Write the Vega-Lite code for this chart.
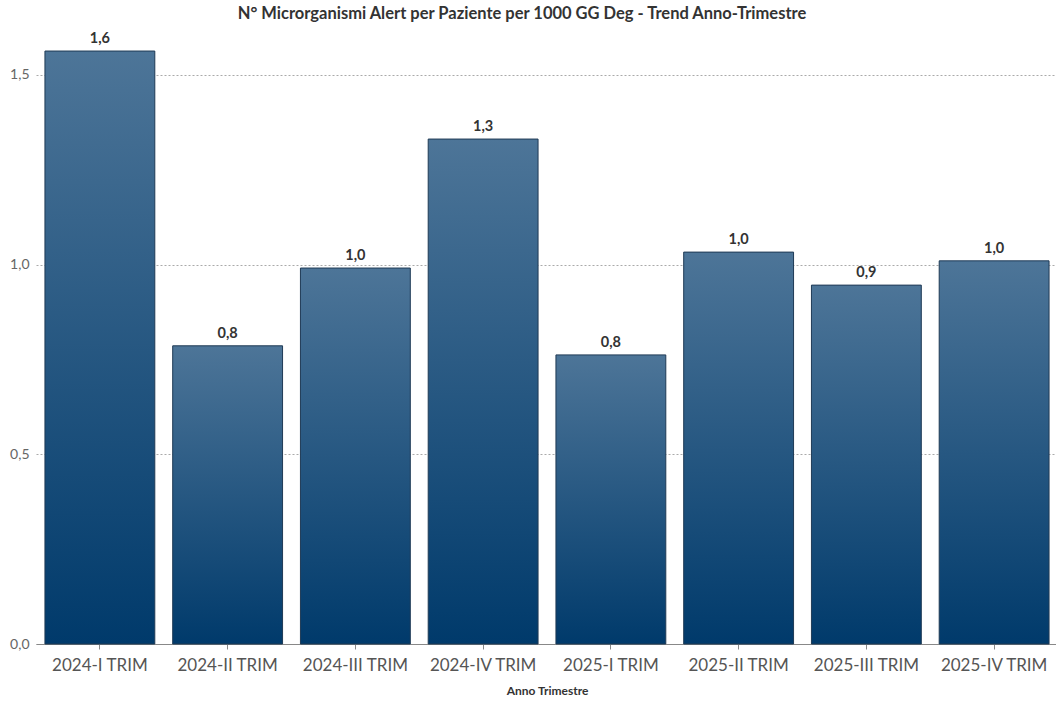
{
  "$schema": "https://vega.github.io/schema/vega-lite/v6.json",
  "autosize": "none",
  "width": 1022,
  "height": 607,
  "padding": {"left": 36, "top": 37, "right": 0, "bottom": 60},
  "background": "white",
  "config": {
    "locale": {"number": {"decimal": ",", "thousands": ".", "grouping": [3], "currency": ["€", ""]}},
    "font": "Lato",
    "view": {"stroke": null}
  },
  "title": {
    "text": "N° Microrganismi Alert per Paziente per 1000 GG Deg - Trend Anno-Trimestre",
    "fontSize": 16.5,
    "fontWeight": "bold",
    "color": "#333333",
    "font": "Lato",
    "anchor": "middle",
    "dx": -25,
    "offset": 9
  },
  "data": {
    "values": [
      {"periodo": "2024-I TRIM", "valore": 1.563},
      {"periodo": "2024-II TRIM", "valore": 0.786},
      {"periodo": "2024-III TRIM", "valore": 0.991},
      {"periodo": "2024-IV TRIM", "valore": 1.331},
      {"periodo": "2025-I TRIM", "valore": 0.762},
      {"periodo": "2025-II TRIM", "valore": 1.033},
      {"periodo": "2025-III TRIM", "valore": 0.946},
      {"periodo": "2025-IV TRIM", "valore": 1.010}
    ]
  },
  "encoding": {
    "x": {
      "field": "periodo",
      "type": "nominal",
      "sort": null,
      "scale": {"paddingInner": 0.14, "paddingOuter": 0.07},
      "axis": {
        "title": "Anno Trimestre",
        "titleFontSize": 12,
        "titleFontWeight": "bold",
        "titleColor": "#333333",
        "titlePadding": 12,
        "labelAngle": 0,
        "labelFontSize": 17,
        "labelColor": "#555555",
        "labelPadding": 8,
        "domainColor": "#888888",
        "tickColor": "#888888",
        "tickSize": 5
      }
    },
    "y": {
      "field": "valore",
      "type": "quantitative",
      "scale": {"domain": [0, 1.6], "nice": false},
      "axis": {
        "title": null,
        "values": [0, 0.5, 1, 1.5],
        "format": ".1f",
        "labelFontSize": 14,
        "labelColor": "#666666",
        "domain": false,
        "ticks": false,
        "labelPadding": 7,
        "gridColor": "#aaaaaa",
        "gridDash": [2, 2],
        "gridWidth": 1
      }
    }
  },
  "layer": [
    {
      "mark": {
        "type": "bar",
        "stroke": "#1f3a55",
        "strokeWidth": 1,
        "color": {
          "gradient": "linear",
          "x1": 0, "y1": 0, "x2": 0, "y2": 1,
          "stops": [
            {"offset": 0, "color": "#4d7598"},
            {"offset": 1, "color": "#003a6b"}
          ]
        }
      }
    },
    {
      "mark": {"type": "text", "dy": -12, "fontSize": 14.5, "fontWeight": "bold", "color": "#333333", "font": "Lato"},
      "encoding": {
        "text": {"field": "valore", "type": "quantitative", "format": ".1f"}
      }
    }
  ]
}
